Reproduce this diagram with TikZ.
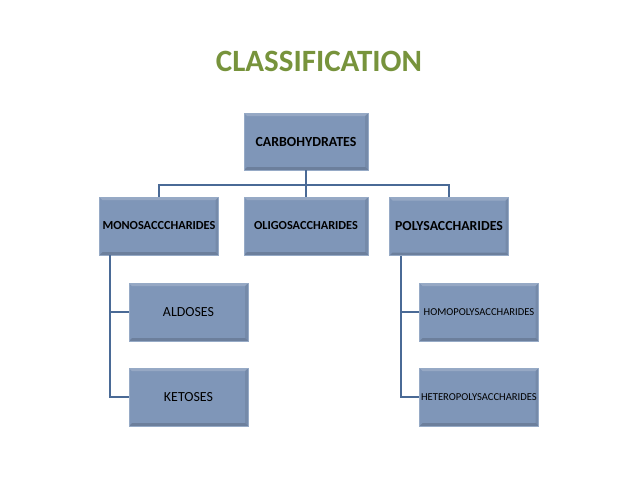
\documentclass[tikz,border=0pt]{standalone}
\usepackage{fontspec}
\setmainfont{Carlito}
\usetikzlibrary{positioning}

\definecolor{titlegreen}{RGB}{119,147,60}
\definecolor{boxfill}{RGB}{127,150,184}
\definecolor{boxedge}{RGB}{150,170,198}
\definecolor{linkblue}{RGB}{74,106,150}

\begin{document}
\begin{tikzpicture}[x=1pt, y=-1pt,
    box/.style={draw=boxedge, line width=0.6pt, fill=boxfill, inner sep=0pt,
        minimum width=119pt, minimum height=58pt, text=black,
        path picture={
            \fill[white, opacity=0.18] (path picture bounding box.north west)
                -- (path picture bounding box.north east)
                -- ([shift={(-3pt,-3pt)}]path picture bounding box.north east)
                -- ([shift={(3pt,-3pt)}]path picture bounding box.north west) -- cycle;
            \fill[black, opacity=0.15] (path picture bounding box.south west)
                -- (path picture bounding box.south east)
                -- ([shift={(-3pt,3pt)}]path picture bounding box.south east)
                -- ([shift={(3pt,3pt)}]path picture bounding box.south west) -- cycle;
            \fill[black, opacity=0.08] (path picture bounding box.south east)
                -- (path picture bounding box.north east)
                -- ([shift={(-3pt,-3pt)}]path picture bounding box.north east)
                -- ([shift={(-3pt,3pt)}]path picture bounding box.south east) -- cycle;
        }},
    bold/.style={font=\fontsize{12.3}{14}\selectfont\bfseries},
    link/.style={draw=linkblue, line width=1.8pt}
]
    \useasboundingbox (0,0) rectangle (638,479);

    \node[font=\fontsize{31}{36}\selectfont\bfseries, text=titlegreen] (title) at (319,61) {CLASSIFICATION};

    \node[box, font=\fontsize{13.9}{16}\selectfont\bfseries, minimum width=124pt, minimum height=57pt] (carb) at (306,141.5) {CARBOHYDRATES};
    \node[box, bold] (mono) at (159,226) {MONOSACCCHARIDES};
    \node[box, bold, minimum width=124pt] (oligo) at (306,226) {OLIGOSACCHARIDES};
    \node[box, font=\fontsize{13.8}{16}\selectfont\bfseries] (poly) at (449,226.5) {POLYSACCHARIDES};

    \node[box, font=\fontsize{13.9}{16}\selectfont] (ald) at (188.5,312) {ALDOSES};
    \node[box, font=\fontsize{13.9}{16}\selectfont] (ket) at (188.5,397) {KETOSES};
    \node[box, font=\fontsize{10.6}{12}\selectfont] (homo) at (479,312) {HOMOPOLYSACCHARIDES};
    \node[box, font=\fontsize{10.6}{12}\selectfont] (hetero) at (479,397) {HETEROPOLYSACCHARIDES};

    \coordinate (bus) at (306,185);

    \draw[link] (carb.south) -- (oligo.north);
    \draw[link] (mono.north) |- (bus) -| (poly.north);
    \foreach \child in {ald,ket} {
        \draw[link] ([xshift=11pt]mono.south west) |- (\child.west);
    }
    \foreach \child in {homo,hetero} {
        \draw[link] ([xshift=12pt]poly.south west) |- (\child.west);
    }
\end{tikzpicture}
\end{document}
